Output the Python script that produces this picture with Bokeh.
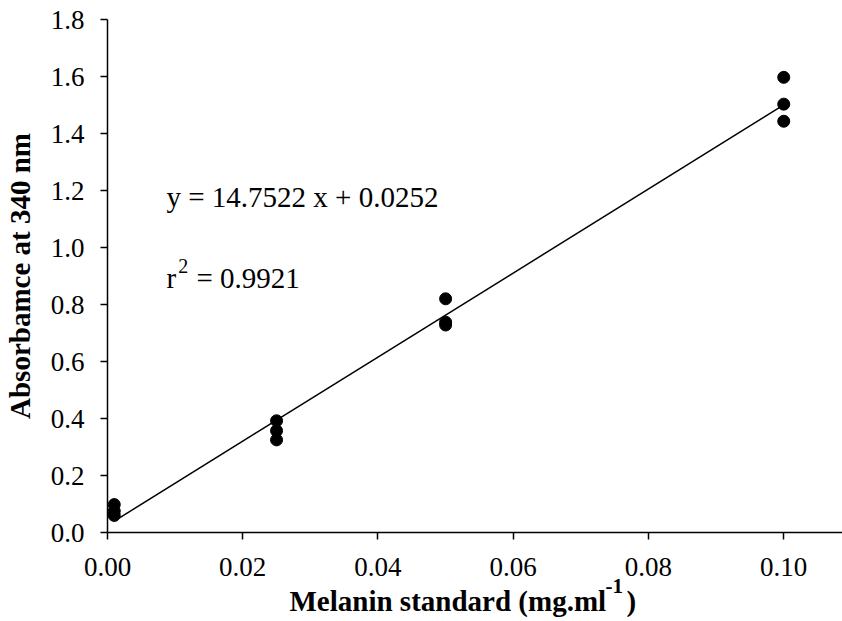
from bokeh.plotting import figure
from bokeh.models import Range1d, FixedTicker, PrintfTickFormatter, Label, Title
from bokeh.embed import file_html
from bokeh.resources import INLINE

# ---- data ----
conc = [0.001, 0.001, 0.001,
        0.025, 0.025, 0.025,
        0.05, 0.05, 0.05,
        0.10, 0.10, 0.10]
absorb = [0.098, 0.075, 0.060,
          0.392, 0.357, 0.325,
          0.820, 0.738, 0.728,
          1.597, 1.503, 1.443]
slope = 14.7522
intercept = 0.0252
r2 = 0.9921
fit_x = [0.001, 0.10]
fit_y = [slope * v + intercept for v in fit_x]
x_ticks = [0.0, 0.02, 0.04, 0.06, 0.08, 0.10]
y_ticks = [0.0, 0.2, 0.4, 0.6, 0.8, 1.0, 1.2, 1.4, 1.6, 1.8]
x_title = "Melanin standard (mg.ml"
x_title_sup = "-1"
y_title = "Absorbamce at 340 nm"

FONT = "Liberation Serif"

p = figure(width=842, height=621,
           x_range=Range1d(0, 0.10869), y_range=Range1d(0, 1.8),
           min_border_left=107, min_border_right=0, min_border_top=19, min_border_bottom=89,
           output_backend="svg", toolbar_location=None)
p.grid.visible = False
p.outline_line_color = None
p.background_fill_color = "white"
p.border_fill_color = "white"

for ax in (p.xaxis[0], p.yaxis[0]):
    ax.axis_line_width = 1.5
    ax.axis_line_color = "black"
    ax.major_tick_line_width = 1.5
    ax.major_tick_line_color = "black"
    ax.major_tick_in = 0
    ax.major_tick_out = 7
    ax.minor_tick_in = 0
    ax.minor_tick_out = 0
    ax.major_label_text_font = FONT
    ax.major_label_text_font_size = "27px"
    ax.major_label_text_color = "black"

p.xaxis.ticker = FixedTicker(ticks=x_ticks)
p.xaxis.formatter = PrintfTickFormatter(format="%.2f")
p.xaxis.major_label_standoff = 18
p.yaxis.ticker = FixedTicker(ticks=y_ticks)
p.yaxis.formatter = PrintfTickFormatter(format="%.1f")
p.yaxis.major_label_standoff = 16

p.yaxis.axis_label = y_title
p.yaxis.axis_label_text_font = FONT
p.yaxis.axis_label_text_font_size = "29px"
p.yaxis.axis_label_text_font_style = "bold"
p.yaxis.axis_label_text_color = "black"
p.yaxis.axis_label_standoff = 12

p.line(fit_x, fit_y, line_color="black", line_width=1.5)
p.scatter(conc, absorb, size=12, fill_color="black", line_color="black")

# equation texts
p.add_layout(Label(x=0.00872, y=1.176, text=f"y = {slope} x + {intercept}",
                   text_font=FONT, text_font_size="29px", text_color="black",
                   text_baseline="alphabetic"))
p.add_layout(Label(x=0.00872, y=0.892, text="r",
                   text_font=FONT, text_font_size="29px", text_color="black",
                   text_baseline="alphabetic"))
p.add_layout(Label(x=0.01045, y=0.934, text="2",
                   text_font=FONT, text_font_size="20px", text_color="black",
                   text_baseline="alphabetic"))
p.add_layout(Label(x=0.01316, y=0.892, text=f"= {r2}",
                   text_font=FONT, text_font_size="29px", text_color="black",
                   text_baseline="alphabetic"))

# x-axis title (superscript line first, then main line with a gap for it)
p.add_layout(Title(text=x_title_sup, align="left", offset=498, standoff=-4,
                   text_font=FONT, text_font_size="21px", text_font_style="bold",
                   text_color="black"), "below")
p.add_layout(Title(text=x_title + "\u2002\u2009)", align="left", offset=182, standoff=-15,
                   text_font=FONT, text_font_size="29px", text_font_style="bold",
                   text_color="black"), "below")

open("out.html", "w").write(file_html(p, INLINE))
